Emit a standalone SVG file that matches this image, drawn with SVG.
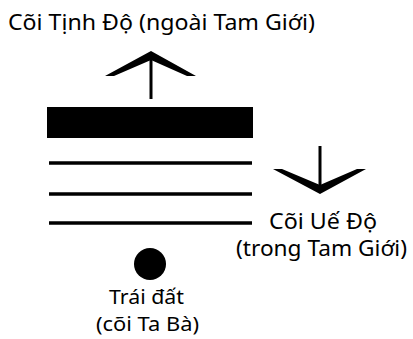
<svg xmlns="http://www.w3.org/2000/svg" width="413" height="339" viewBox="0 0 413 339">
<style>
text{font-family:"Noto Sans","Open Sans","DejaVu Sans",sans-serif;font-size:21px;fill:#000}
.sm{font-size:20px}
.ln{stroke:#000;stroke-width:3.5;fill:none}
.stem{stroke:#000;stroke-width:3;fill:none}
</style>
<rect width="413" height="339" fill="#fff"/>
<g id="title"><text x="8" y="30" textLength="307" lengthAdjust="spacingAndGlyphs">Cõi Tịnh Độ (ngoài Tam Giới)</text></g>
<g id="connectors">
<line class="stem" x1="151" y1="56" x2="151" y2="99"/>
<path d="M105,76 L151,51 L196,76 L187,76 L151,60 L114,76 Z" fill="#000"/>
<line class="stem" x1="320" y1="146" x2="320" y2="190"/>
<path d="M273,169 L320,194 L366,169 L357,169 L320,185 L282,169 Z" fill="#000"/>
</g>
<g id="pure-land-bar"><rect x="47" y="107" width="206" height="31" fill="#000"/></g>
<g id="lines">
<line class="ln" x1="49" y1="163" x2="252" y2="163"/>
<line class="ln" x1="49" y1="194" x2="252" y2="194"/>
<line class="ln" x1="49" y1="223" x2="252" y2="223"/>
</g>
<g id="impure-land"><text x="269" y="229" textLength="108" lengthAdjust="spacingAndGlyphs">Cõi Uế Độ</text><text x="236" y="256" textLength="171" lengthAdjust="spacingAndGlyphs">(trong Tam Giới)</text></g>
<g id="earth"><circle cx="150" cy="264" r="16" fill="#000"/><text class="sm" x="109" y="304" textLength="75" lengthAdjust="spacingAndGlyphs">Trái đất</text><text class="sm" x="96" y="331" textLength="103" lengthAdjust="spacingAndGlyphs">(cõi Ta Bà)</text></g>
</svg>
